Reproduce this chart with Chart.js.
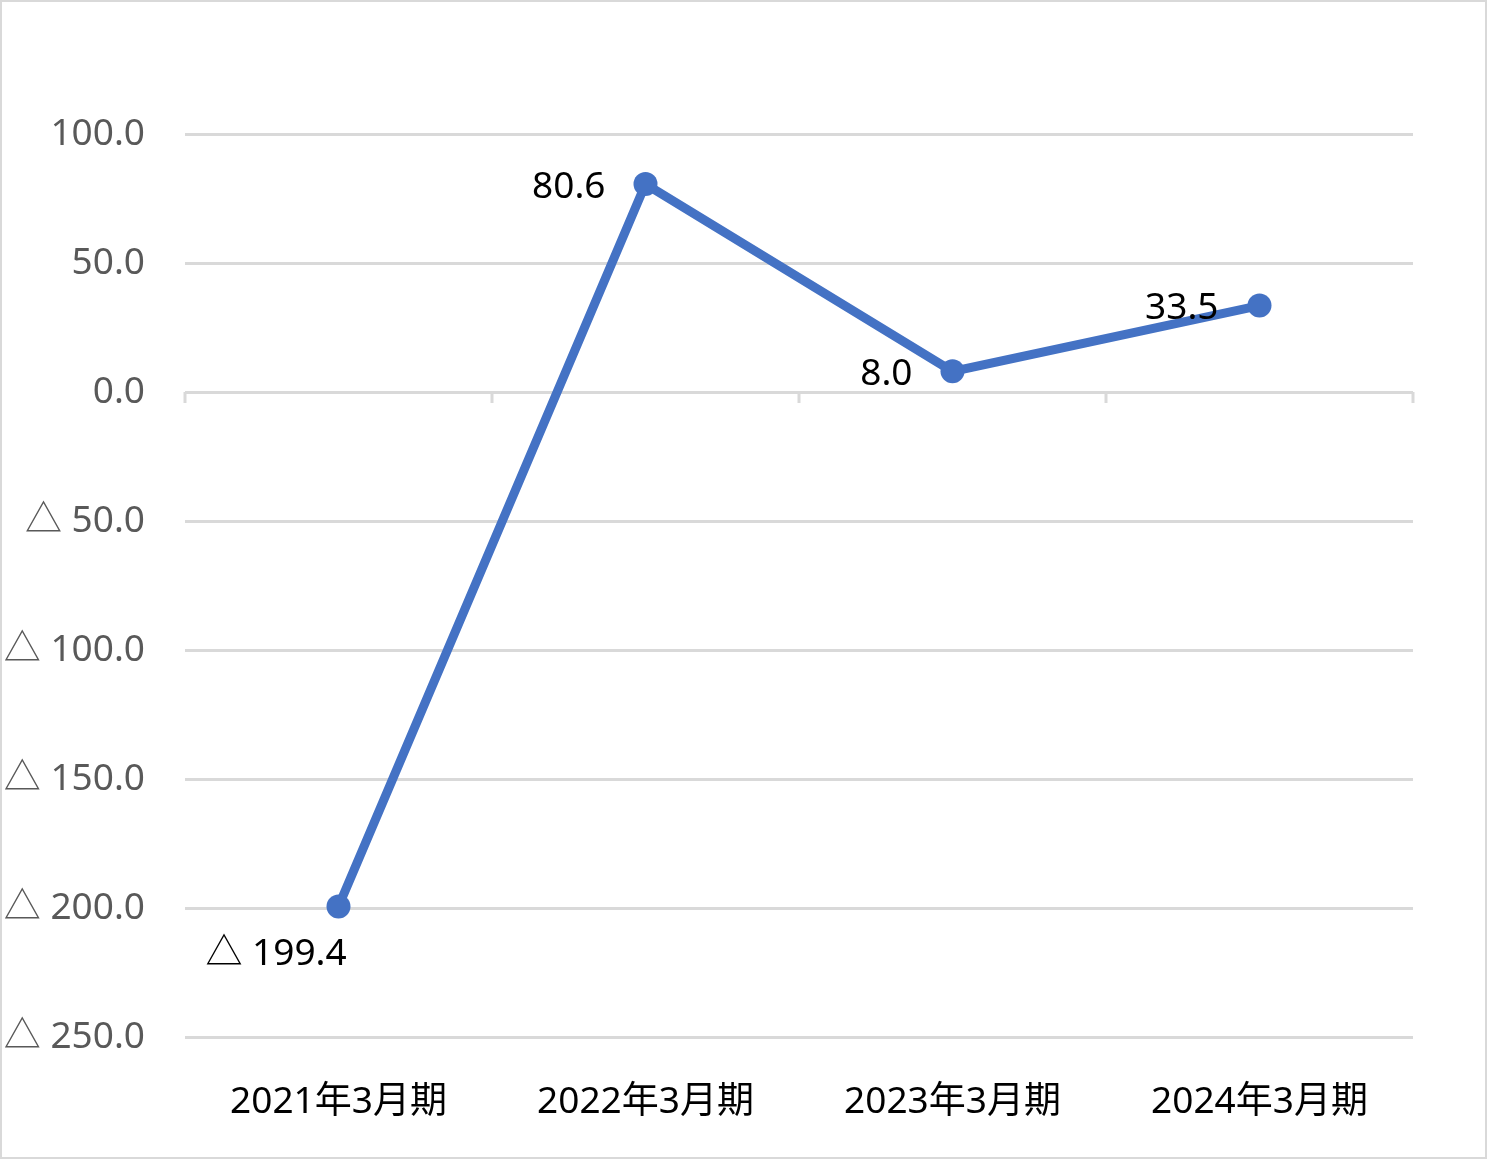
<!DOCTYPE html>
<html>
<head>
<meta charset="utf-8">
<script src="https://cdn.jsdelivr.net/npm/chart.js@4/dist/chart.umd.min.js"></script>
<style>
  html, body { margin: 0; padding: 0; background: #fff; }
  #wrap {
    width: 1487px; height: 1159px; box-sizing: border-box;
    border: 2px solid #d9d9d9; background: #fff;
  }
  canvas { display: block; }
</style>
</head>
<body>
<div id="wrap"><canvas id="lineChart" width="1483" height="1155"></canvas></div>
<script>
// --- Data ---
const periods = ["2021年3月期", "2022年3月期", "2023年3月期", "2024年3月期"];
const values = [-199.4, 80.6, 8.0, 33.5];
const yTicks = [100, 50, 0, -50, -100, -150, -200, -250];

const FONT = "'Noto Sans', 'Noto Sans CJK JP', sans-serif";
const LINE_COLOR = "#4472C4";
const GRID_COLOR = "#d9d9d9";

// negative numbers are shown with a triangle (Japanese style)
function fmt(v) {
  if (v < 0) return "△ " + Math.abs(v).toFixed(1);
  return Number(v).toFixed(1);
}

// where each data label sits relative to its point (px)
const labelSpots = [
  { align: "left", dx: -133, dy: 48 },
  { align: "right", dx: -40, dy: 3 },
  { align: "right", dx: -40, dy: 3 },
  { align: "right", dx: -41, dy: 3 }
];

// --- Data labels plugin ---
const dataLabels = {
  id: "dataLabels",
  afterDatasetsDraw(chart) {
    const ctx = chart.ctx;
    const meta = chart.getDatasetMeta(0);
    ctx.save();
    ctx.font = "37px " + FONT;
    ctx.fillStyle = "#000";
    ctx.textBaseline = "middle";
    meta.data.forEach((pt, i) => {
      const s = labelSpots[i];
      ctx.textAlign = s.align;
      ctx.fillText(fmt(values[i]), pt.x + s.dx, pt.y + s.dy);
    });
    ctx.restore();
  }
};

// --- Small tick marks on the zero line at category boundaries ---
const zeroTicks = {
  id: "zeroTicks",
  beforeDatasetsDraw(chart) {
    const ctx = chart.ctx;
    const x = chart.scales.x, y = chart.scales.y;
    const y0 = y.getPixelForValue(0);
    const half = (x.getPixelForValue(1) - x.getPixelForValue(0)) / 2;
    ctx.save();
    ctx.strokeStyle = GRID_COLOR;
    ctx.lineWidth = 3;
    ctx.beginPath();
    for (let i = 0; i <= periods.length; i++) {
      const px = Math.round(x.getPixelForValue(i) - half);
      ctx.moveTo(px, y0);
      ctx.lineTo(px, y0 + 11);
    }
    ctx.stroke();
    ctx.restore();
  }
};

new Chart(document.getElementById("lineChart"), {
  type: "line",
  data: {
    labels: periods,
    datasets: [{
      data: values,
      borderColor: LINE_COLOR,
      backgroundColor: LINE_COLOR,
      borderWidth: 9,
      pointRadius: 12,
      pointHoverRadius: 12,
      pointBackgroundColor: LINE_COLOR,
      pointBorderWidth: 0,
      tension: 0
    }]
  },
  options: {
    responsive: false,
    animation: false,
    layout: { padding: { top: 132, right: 72, bottom: 0, left: 0 } },
    plugins: {
      legend: { display: false },
      tooltip: { enabled: false }
    },
    scales: {
      x: {
        offset: true,
        grid: { display: false },
        border: { display: false },
        ticks: {
          padding: 35,
          color: "#000",
          font: { size: 37, family: FONT },
          maxRotation: 0
        },
        afterFit(scale) { scale.height = 120; }
      },
      y: {
        min: -250,
        max: 100,
        afterBuildTicks(scale) { scale.ticks = yTicks.map(v => ({ value: v })); },
        grid: { color: GRID_COLOR, lineWidth: 3, drawTicks: false },
        border: { display: false },
        ticks: {
          padding: 40,
          color: "#595959",
          font: { size: 37, family: FONT },
          callback: v => fmt(v)
        },
        afterFit(scale) { scale.width = 183; }
      }
    }
  },
  plugins: [zeroTicks, dataLabels]
});
</script>
</body>
</html>
